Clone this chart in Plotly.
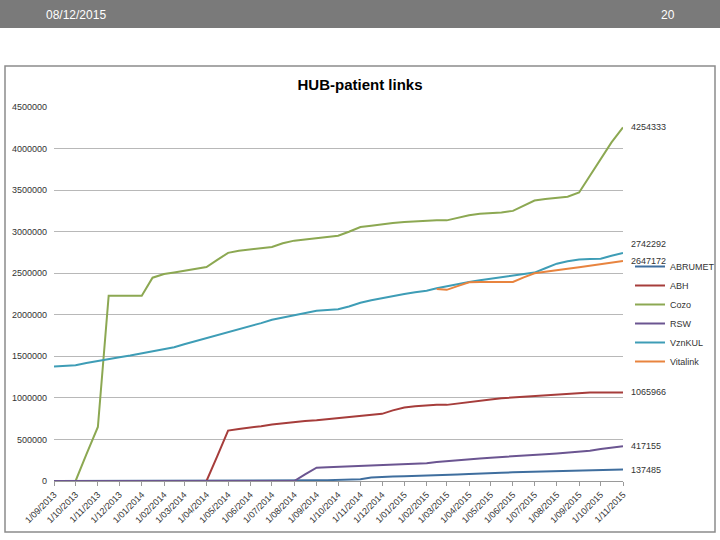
import plotly.graph_objects as go

dates = [
    "2013-09-01", "2013-09-16", "2013-10-01", "2013-10-16", "2013-11-01", "2013-11-16",
    "2013-12-01", "2013-12-16", "2014-01-01", "2014-01-16", "2014-02-01", "2014-02-15",
    "2014-03-01", "2014-03-16", "2014-04-01", "2014-04-16", "2014-05-01", "2014-05-16",
    "2014-06-01", "2014-06-16", "2014-07-01", "2014-07-16", "2014-08-01", "2014-08-16",
    "2014-09-01", "2014-09-16", "2014-10-01", "2014-10-16", "2014-11-01", "2014-11-16",
    "2014-12-01", "2014-12-16", "2015-01-01", "2015-01-16", "2015-02-01", "2015-02-15",
    "2015-03-01", "2015-03-16", "2015-04-01", "2015-04-16", "2015-05-01", "2015-05-16",
    "2015-06-01", "2015-06-16", "2015-07-01", "2015-07-16", "2015-08-01", "2015-08-16",
    "2015-09-01", "2015-09-16", "2015-10-01", "2015-10-16", "2015-11-01",
]

tick_dates = [
    "2013-09-01", "2013-10-01", "2013-11-01", "2013-12-01", "2014-01-01", "2014-02-01",
    "2014-03-01", "2014-04-01", "2014-05-01", "2014-06-01", "2014-07-01", "2014-08-01",
    "2014-09-01", "2014-10-01", "2014-11-01", "2014-12-01", "2015-01-01", "2015-02-01",
    "2015-03-01", "2015-04-01", "2015-05-01", "2015-06-01", "2015-07-01", "2015-08-01",
    "2015-09-01", "2015-10-01", "2015-11-01",
]
tick_labels = [
    "1/09/2013", "1/10/2013", "1/11/2013", "1/12/2013", "1/01/2014", "1/02/2014",
    "1/03/2014", "1/04/2014", "1/05/2014", "1/06/2014", "1/07/2014", "1/08/2014",
    "1/09/2014", "1/10/2014", "1/11/2014", "1/12/2014", "1/01/2015", "1/02/2015",
    "1/03/2015", "1/04/2015", "1/05/2015", "1/06/2015", "1/07/2015", "1/08/2015",
    "1/09/2015", "1/10/2015", "1/11/2015",
]

abrumet = [0] * 22 + [
    2000, 5000, 8000, 10000, 12000, 16000, 22000, 42000, 50000, 54000,
    57000, 60000, 63000, 67000, 72000, 78000, 85000, 92000, 96000, 100000,
    104000, 108000, 112000, 116000, 120000, 124000, 127000, 131000, 135000, 137000,
    137485,
]
abh = [0] * 15 + [
    300000, 606000, 625000, 640000, 660000, 680000, 695000, 710000, 722000, 732000,
    745000, 760000, 777000, 790000, 800000, 808000, 850000, 885000, 900000, 912000,
    916000, 916000, 930000, 948000, 965000, 980000, 996000, 1005000, 1013000, 1022000,
    1032000, 1041000, 1050000, 1058000, 1064000, 1066000, 1066000, 1065966,
]
cozo = [
    0, 0, 0, 320000, 650000, 2230000, 2230000, 2230000, 2230000, 2446000,
    2490000, 2510000, 2530000, 2555000, 2575000, 2660000, 2745000, 2770000, 2785000, 2795000,
    2815000, 2860000, 2892000, 2905000, 2920000, 2935000, 2952000, 2999000, 3055000, 3070000,
    3090000, 3105000, 3115000, 3123000, 3134000, 3136000, 3136000, 3170000, 3198000, 3215000,
    3222000, 3232000, 3250000, 3315000, 3375000, 3393000, 3404000, 3420000, 3472000, 3677000,
    3875000, 4074000, 4254333,
]
rsw = [0] * 23 + [
    80000, 160000, 165000, 170000, 175000, 185000, 192000, 196000, 200000, 203000,
    206000, 215000, 228000, 240000, 252000, 264000, 272000, 280000, 287000, 298000,
    305000, 313000, 322000, 332000, 342000, 352000, 365000, 385000, 402000, 417155,
]
vznkul = [
    1377000, 1385000, 1394000, 1420000, 1447000, 1470000, 1490000, 1510000, 1535000, 1560000,
    1580000, 1610000, 1645000, 1680000, 1715000, 1750000, 1790000, 1825000, 1860000, 1900000,
    1940000, 1965000, 1995000, 2025000, 2048000, 2058000, 2066000, 2100000, 2145000, 2175000,
    2200000, 2230000, 2250000, 2270000, 2290000, 2320000, 2345000, 2370000, 2394000, 2415000,
    2435000, 2455000, 2475000, 2490000, 2508000, 2560000, 2615000, 2645000, 2665000, 2670000,
    2675000, 2710000, 2742292,
]
vitalink = [None] * 35 + [
    2310000, 2300000, 2345000, 2390000, 2394000, 2394000, 2394000, 2394000, 2450000, 2500000,
    2518000, 2532000, 2553000, 2572000, 2592000, 2610000, 2630000, 2647172,
]

series_names = ["ABRUMET", "ABH", "Cozo", "RSW", "VznKUL", "Vitalink"]
series_values = [abrumet, abh, cozo, rsw, vznkul, vitalink]
colors = ["#3F6E9E", "#A63D3B", "#8CA852", "#6B5591", "#3E9DB6", "#E8843F"]
label_yshift = [0, 0, 0, 0, 9, 0]

FONT = "Arial, Liberation Sans, sans-serif"

fig = go.Figure()
for name, vals, col in zip(series_names, series_values, colors):
    fig.add_trace(go.Scatter(
        x=dates, y=vals, name=name, mode="lines",
        line=dict(color=col, width=2), connectgaps=False,
    ))

for vals, ys in zip(series_values, label_yshift):
    fig.add_annotation(
        x=dates[-1], y=vals[-1], text=str(int(vals[-1])), showarrow=False,
        xanchor="left", yanchor="middle", xshift=6, yshift=ys,
        font=dict(family=FONT, size=9, color="#333333"),
    )

L, R, T, B = 54, 97, 107, 59
W, H = 720, 540
pw, ph = W - L - R, H - T - B

def px(xp):
    return (xp - L) / pw

def py(yp):
    return (H - B - yp) / ph

# header bar
fig.add_shape(type="rect", xref="paper", yref="paper",
              x0=px(0), x1=px(W), y0=py(28), y1=py(0),
              fillcolor="#7A7A7A", line=dict(width=0), layer="below")
fig.add_annotation(xref="paper", yref="paper", x=px(44), y=py(15), text="08/12/2015",
                   showarrow=False, xanchor="left", yanchor="middle",
                   font=dict(family=FONT, size=12, color="#FFFFFF"))
fig.add_annotation(xref="paper", yref="paper", x=px(677), y=py(15), text="20",
                   showarrow=False, xanchor="right", yanchor="middle",
                   font=dict(family=FONT, size=12, color="#FFFFFF"))
# chart border
fig.add_shape(type="rect", xref="paper", yref="paper",
              x0=px(5), x1=px(715), y0=py(532), y1=py(66),
              line=dict(color="#8C8C8C", width=1.5), fillcolor="rgba(0,0,0,0)", layer="below")

fig.update_layout(
    width=W, height=H,
    margin=dict(l=L, r=R, t=T, b=B, autoexpand=False),
    paper_bgcolor="white", plot_bgcolor="white",
    title=dict(text="<b>HUB-patient links</b>", x=0.5, xanchor="center",
               y=1 - 85 / H, yanchor="middle", yref="container",
               font=dict(family=FONT, size=15, color="#000000")),
    xaxis=dict(
        type="date", range=[dates[0], dates[-1]],
        tickmode="array", tickvals=tick_dates, ticktext=tick_labels,
        tickangle=-45, tickfont=dict(family=FONT, size=9, color="#333333"),
        showgrid=False, showline=True, linecolor="#9A9A9A", linewidth=1,
        ticks="outside", ticklen=4, tickcolor="#9A9A9A", zeroline=False,
        automargin=False,
    ),
    yaxis=dict(
        range=[0, 4500000], tickmode="linear", tick0=0, dtick=500000,
        tickformat="d", tickfont=dict(family=FONT, size=9, color="#333333"),
        showgrid=True, gridcolor="#B8B8B8", gridwidth=1,
        showline=False, zeroline=False, ticks="", ticklabelstandoff=6,
        automargin=False,
    ),
    legend=dict(
        x=px(630), y=py(314), xanchor="left", yanchor="middle",
        font=dict(family=FONT, size=9, color="#333333"),
        bgcolor="rgba(0,0,0,0)", borderwidth=0, itemwidth=30,
    ),
    showlegend=True,
)

fig.write_html(
    "out.html",
    config={"displayModeBar": False},
    post_script="document.body.style.margin='0';document.body.style.padding='0';"
                "document.body.style.overflow='hidden';"
                "document.documentElement.style.overflow='hidden';",
)
